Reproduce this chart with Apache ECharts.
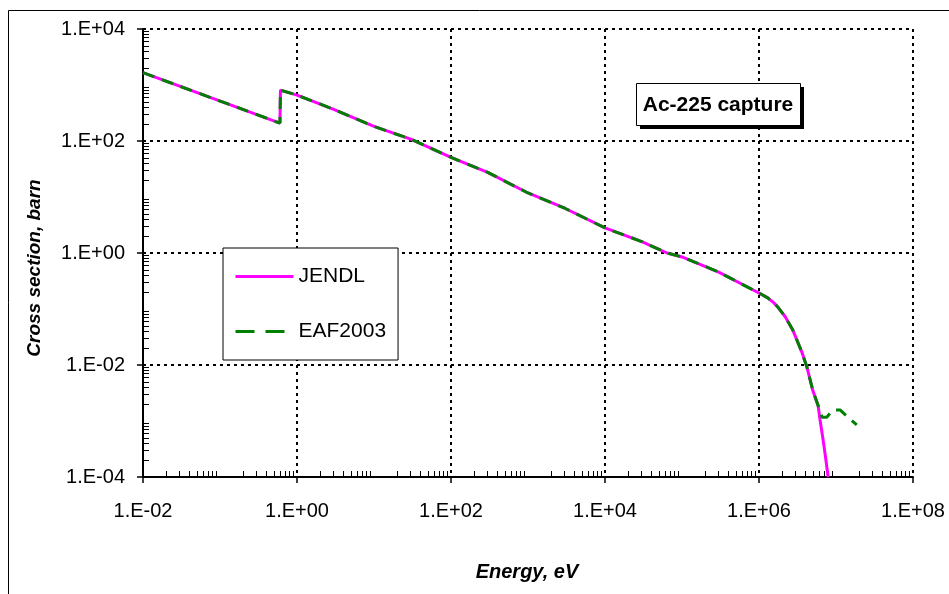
<!DOCTYPE html>
<html>
<head>
<meta charset="utf-8">
<script src="https://cdn.jsdelivr.net/npm/echarts@6/dist/echarts.min.js"></script>
<style>
  html, body { margin: 0; padding: 0; background: #fff; }
  #chart { width: 949px; height: 594px; }
</style>
</head>
<body>
<div id="chart"></div>
<script>
// Ac-225 capture cross section
const energyJendl = [0.01, 0.6, 0.61, 1, 3, 10, 30, 100, 300, 1000, 3000, 1e4, 3e4, 6.4e4, 1e5, 3e5, 1e6, 1.3e6,
    1.55e6, 1.8e6, 2.2e6, 2.75e6, 3.6e6, 4.2e6, 5e6, 5.85e6, 6.2e6, 6.8e6, 7.4e6, 7.9e6]
const sigmaJendl = [1660, 209, 810, 660, 368, 182, 108, 51, 27.5, 11.8, 6.3, 2.8, 1.6, 1.0, 0.85, 0.457, 0.193, 0.158,
    0.13, 0.104, 0.072, 0.042, 0.017, 0.0091, 0.0035, 0.0019, 0.00105, 0.00046, 0.0002, 0.0001]

const energyEaf = [0.01, 0.6, 0.61, 1, 3, 10, 30, 100, 300, 1000, 3000, 1e4, 3e4, 6.4e4, 1e5, 3e5, 1e6, 1.3e6,
    1.55e6, 1.8e6, 2.2e6, 2.75e6, 3.6e6, 4.2e6, 5e6, 5.85e6, 6.6e6, 7.6e6, 9.1e6, 1.13e7, 1.5e7, 1.86e7]
const sigmaEaf = [1660, 209, 810, 660, 368, 182, 108, 51, 27.5, 11.8, 6.3, 2.8, 1.6, 1.0, 0.85, 0.457, 0.193, 0.158,
    0.13, 0.104, 0.072, 0.042, 0.017, 0.0091, 0.0035, 0.0019, 0.00117, 0.00117, 0.00158, 0.00158, 0.0011, 0.00085]

const xTickValues = [1e-2, 1, 1e2, 1e4, 1e6, 1e8]
const xTickLabels = ['1.E-02', '1.E+00', '1.E+02', '1.E+04', '1.E+06', '1.E+08']
const yTickValues = [1e-4, 1e-2, 1, 1e2, 1e4]
const yTickLabels = ['1.E-04', '1.E-02', '1.E+00', '1.E+02', '1.E+04']

// minor ticks 2..9 in every decade
function minorTicks (lo, hi) {
    const out = []
    for (let e = lo; e < hi; e++) {
        for (let m = 2; m <= 9; m++) out.push(m * Math.pow(10, e))
    }
    return out
}
const xMinor = minorTicks(-2, 8)
const yMinor = minorTicks(-4, 4)

function pairs (xs, ys) {
    return xs.map((x, i) => [x, ys[i]])
}
function labelFor (values, labels) {
    return function (v) {
        let best = 0
        values.forEach((t, i) => {
            if (Math.abs(Math.log10(t) - Math.log10(v)) < Math.abs(Math.log10(values[best]) - Math.log10(v))) best = i
        })
        return labels[best]
    }
}

const font = 'Arial, "Liberation Sans", sans-serif'
const gridDots = { color: '#000', width: 2, type: [3, 4] }

const chart = echarts.init(document.getElementById('chart'))
chart.setOption({
    animation: false,
    backgroundColor: '#fff',
    grid: {
        left: 143, right: 36, top: 29, bottom: 117,
        containLabel: false,
        outerBoundsMode: 'none'
    },
    legend: {
        orient: 'vertical',
        left: 223,
        top: 248,
        padding: [18, 12, 18, 11],
        itemWidth: 58,
        itemHeight: 14,
        itemGap: 34,
        backgroundColor: '#fff',
        borderColor: '#000',
        borderWidth: 1,
        borderRadius: 0,
        itemStyle: { opacity: 0 },
        lineStyle: { width: 3 },
        textStyle: { fontFamily: font, fontSize: 21, color: '#000' },
        data: [
            { name: 'JENDL' },
            { name: 'EAF2003', lineStyle: { width: 3, type: [19, 11] } }
        ]
    },
    xAxis: [{
        type: 'log',
        logBase: 10,
        min: 1e-2,
        max: 1e8,
        position: 'bottom',
        axisLine: { lineStyle: { color: '#000', width: 2 } },
        axisTick: { inside: false, length: 6, customValues: xTickValues, lineStyle: { color: '#000', width: 1.5 } },
        axisLabel: {
            customValues: xTickValues,
            formatter: labelFor(xTickValues, xTickLabels),
            margin: 24,
            fontFamily: font, fontSize: 20, color: '#000'
        },
        splitLine: { show: true, lineStyle: gridDots },
        minorTick: { show: false }
    }, {
        type: 'log',
        logBase: 10,
        min: 1e-2,
        max: 1e8,
        position: 'bottom',
        axisLine: { show: false },
        axisTick: { inside: true, length: 6, customValues: xMinor, lineStyle: { color: '#000', width: 1 } },
        axisLabel: { show: false },
        splitLine: { show: false }
    }],
    yAxis: [{
        type: 'log',
        logBase: 10,
        min: 1e-4,
        max: 1e4,
        position: 'left',
        axisLine: { lineStyle: { color: '#000', width: 2 } },
        axisTick: { inside: false, length: 6, customValues: yTickValues, lineStyle: { color: '#000', width: 1.5 } },
        axisLabel: {
            customValues: yTickValues,
            formatter: labelFor(yTickValues, yTickLabels),
            margin: 18,
            fontFamily: font, fontSize: 20, color: '#000'
        },
        splitLine: { show: true, lineStyle: gridDots },
        minorTick: { show: false }
    }, {
        type: 'log',
        logBase: 10,
        min: 1e-4,
        max: 1e4,
        position: 'left',
        axisLine: { show: false },
        axisTick: { inside: true, length: 6, customValues: yMinor, lineStyle: { color: '#000', width: 1 } },
        axisLabel: { show: false },
        splitLine: { show: false }
    }],
    graphic: [
        {
            type: 'rect',
            shape: { x: 8.5, y: 10.5, width: 1000, height: 1000 },
            style: { fill: 'none', stroke: '#000', lineWidth: 1 },
            silent: true
        },
        {
            type: 'rect',
            shape: { x: 640, y: 87, width: 164, height: 42 },
            style: { fill: '#000' },
            z: 10
        },
        {
            type: 'rect',
            shape: { x: 636.5, y: 83.5, width: 164, height: 42 },
            style: { fill: '#fff', stroke: '#000', lineWidth: 1 },
            z: 11
        },
        {
            type: 'text',
            x: 718, y: 105,
            style: {
                text: 'Ac-225 capture',
                font: 'bold 21px ' + font,
                fill: '#000',
                align: 'center',
                verticalAlign: 'middle'
            },
            z: 12
        },
        {
            type: 'text',
            x: 527, y: 572,
            style: {
                text: 'Energy, eV',
                font: 'italic bold 20px ' + font,
                fill: '#000',
                align: 'center',
                verticalAlign: 'middle'
            }
        },
        {
            type: 'text',
            x: 35, y: 268,
            rotation: Math.PI / 2,
            style: {
                text: 'Cross section, barn',
                font: 'italic bold 19px ' + font,
                fill: '#000',
                align: 'center',
                verticalAlign: 'middle'
            }
        }
    ],
    series: [
        {
            name: 'JENDL',
            type: 'line',
            xAxisIndex: 0,
            yAxisIndex: 0,
            symbol: 'none',
            color: '#ff00ff',
            lineStyle: { color: '#ff00ff', width: 3 },
            data: pairs(energyJendl, sigmaJendl),
            z: 3
        },
        {
            name: 'EAF2003',
            type: 'line',
            xAxisIndex: 0,
            yAxisIndex: 0,
            symbol: 'none',
            color: '#008000',
            lineStyle: { color: '#008000', width: 3, type: [12, 8] },
            data: pairs(energyEaf, sigmaEaf),
            z: 4
        }
    ]
})
</script>
</body>
</html>
